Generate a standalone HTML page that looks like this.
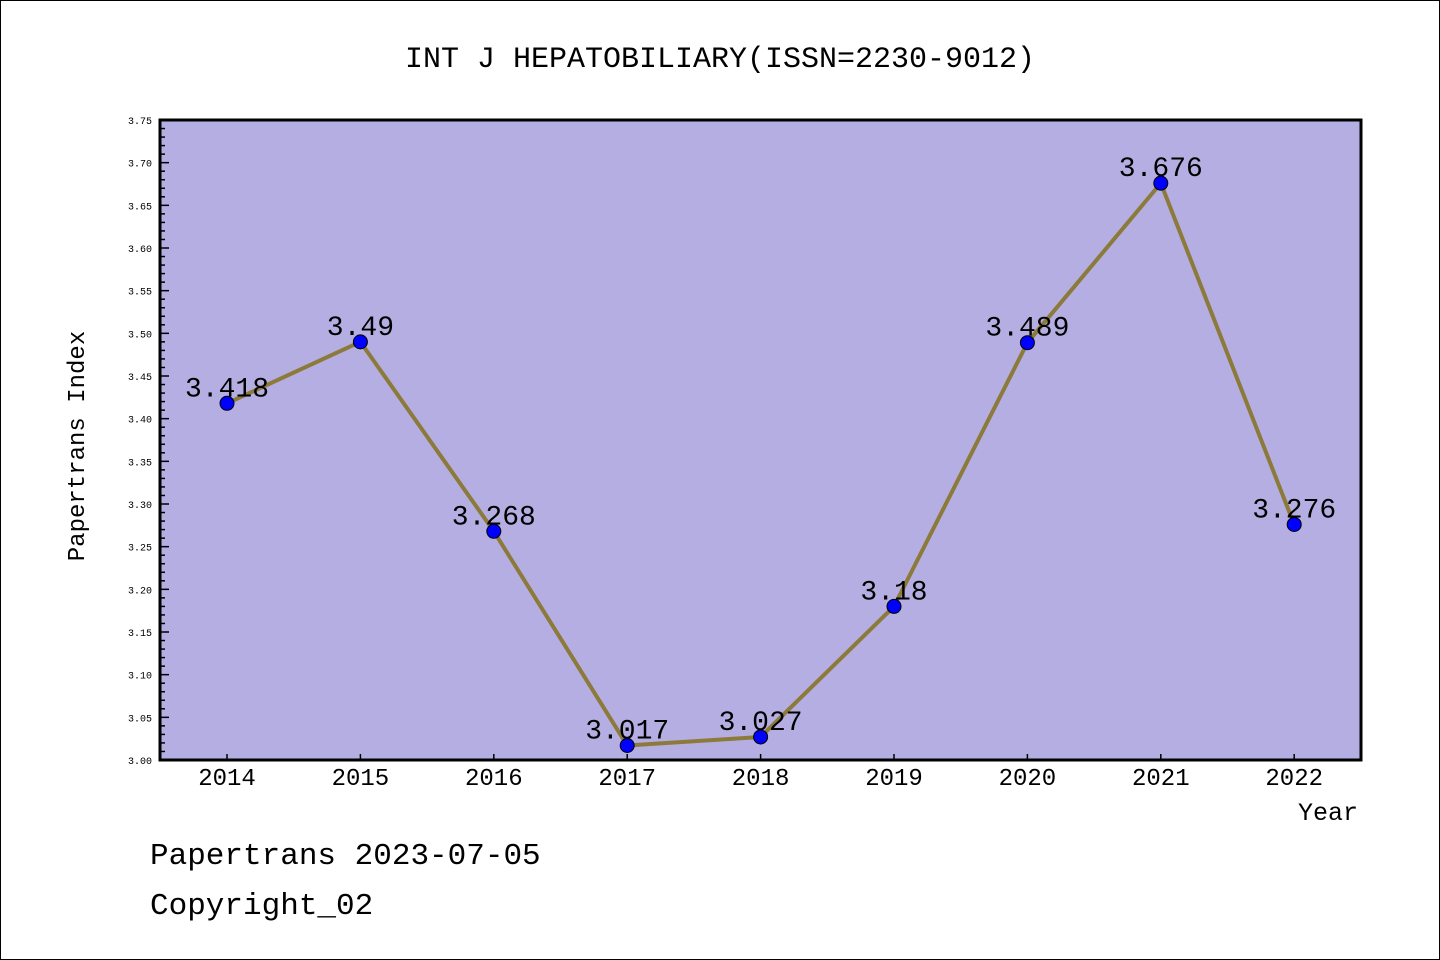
<!DOCTYPE html>
<html><head><meta charset="utf-8"><style>
html,body{margin:0;padding:0;background:#fff}
svg{display:block}
text{font-family:"Liberation Mono","DejaVu Sans Mono",monospace}
</style></head><body>
<svg id="chart" width="1440" height="960" xmlns="http://www.w3.org/2000/svg">
<rect x="0.5" y="0.5" width="1439" height="959" fill="#fff" stroke="#000" stroke-width="1"/>
<text x="720" y="67" text-anchor="middle" font-size="30">INT J HEPATOBILIARY(ISSN=2230-9012)</text>
<rect x="160" y="120" width="1201" height="640" fill="#b5aee2"/>
<g id="yaxis"></g>
<g id="xaxis"></g>
<g id="series"></g>
<rect x="160" y="120" width="1201" height="640" fill="none" stroke="#000" stroke-width="3"/>
<text transform="translate(84,446) rotate(-90)" text-anchor="middle" font-size="24">Papertrans Index</text>
<text x="1358" y="820" text-anchor="end" font-size="25">Year</text>
<text x="150" y="864" font-size="31">Papertrans 2023-07-05</text>
<text x="150" y="914" font-size="31">Copyright_02</text>
</svg>
<script>
const years = ["2014","2015","2016","2017","2018","2019","2020","2021","2022"];
const values = [3.418, 3.49, 3.268, 3.017, 3.027, 3.18, 3.489, 3.676, 3.276];
const valueLabels = ["3.418","3.49","3.268","3.017","3.027","3.18","3.489","3.676","3.276"];
const yTicks = ["3.00","3.05","3.10","3.15","3.20","3.25","3.30","3.35","3.40","3.45","3.50","3.55","3.60","3.65","3.70","3.75"];
{
const NS="http://www.w3.org/2000/svg";
const yMin=3.0,yMax=3.75,plotTop=120,plotBot=760,plotLeft=160;
const x0=227,dx=133.4;
const yS=v=>plotBot-(v-yMin)/(yMax-yMin)*(plotBot-plotTop);
const xS=i=>x0+i*dx;
function mk(tag,attrs,parent){const e=document.createElementNS(NS,tag);for(const k in attrs)e.setAttribute(k,attrs[k]);parent.appendChild(e);return e;}
const ya=document.getElementById('yaxis'),xa=document.getElementById('xaxis'),sg=document.getElementById('series');
for(let m=0;m<=75;m++){const v=yMin+m*0.01;const y=yS(v);const major=m%5===0;
 const l=mk('line',{x1:plotLeft,x2:plotLeft+(major?9:5),y1:y,y2:y,stroke:'#000','stroke-width':1.5},ya);
 
 }
yTicks.forEach(t=>{const y=yS(parseFloat(t));
 const e=mk('text',{x:152,y:y+4,'text-anchor':'end','font-size':10,'font-family':'Liberation Sans, sans-serif'},ya);e.textContent=t;
 
 });
years.forEach((yr,i)=>{const x=xS(i);
 const l=mk('line',{x1:x,x2:x,y1:plotBot,y2:plotBot-6,stroke:'#000','stroke-width':1.5},xa);
 
 
 const t=mk('text',{x:x,y:785,'text-anchor':'middle','font-size':24,'font-family':'Liberation Sans, sans-serif'},xa);t.textContent=yr;
 
 });
const pts=values.map((v,i)=>xS(i)+','+yS(v)).join(' ');
const pl=mk('polyline',{points:pts,fill:'none',stroke:'#8b7a3a','stroke-width':4,'stroke-linejoin':'round'},sg);


values.forEach((v,i)=>{
 const c=mk('circle',{cx:xS(i),cy:yS(v),r:7,fill:'#0000ff',stroke:'#000','stroke-width':1},sg);
 
 
 const t=mk('text',{x:xS(i),y:yS(v)-7,'text-anchor':'middle','font-size':28},sg);t.textContent=valueLabels[i];
 
 });
}
</script>
</body></html>
